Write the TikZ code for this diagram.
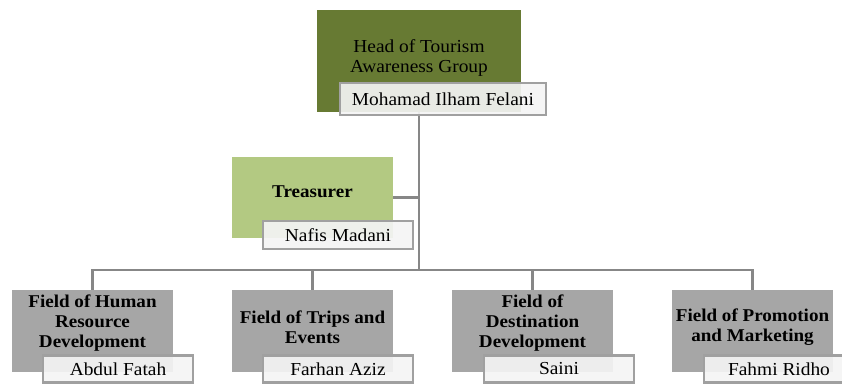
\documentclass[tikz,border=0pt]{standalone}
\usepackage{fontspec}
\setmainfont{Liberation Serif}[FakeStretch=1.06]
\definecolor{headgreen}{HTML}{677A33}
\definecolor{treasgreen}{HTML}{B3C982}
\definecolor{fieldgray}{HTML}{A6A6A6}
\definecolor{namefill}{HTML}{F4F4F4}
\definecolor{nameedge}{HTML}{A0A0A0}
\definecolor{linkgray}{HTML}{878787}
\begin{document}
\begin{tikzpicture}[x=1pt,y=-1pt,
  box/.style={draw=none, inner sep=0pt, minimum width=161pt, minimum height=82pt},
  headbox/.style={box, fill=headgreen, minimum width=204pt, minimum height=102pt},
  treasbox/.style={box, fill=treasgreen, minimum height=81pt},
  fieldbox/.style={box, fill=fieldgray},
  namebox/.style={draw=nameedge, line width=2.8pt, fill=namefill, fill opacity=0.92,
    text opacity=1, inner sep=0pt, minimum width=150pt, minimum height=27pt,
    font=\fontsize{18.3}{20}\selectfont},
  lbl/.style={align=center, inner sep=0pt, font=\fontsize{18.3}{20}\selectfont},
  blbl/.style={lbl, font=\fontsize{18}{20}\selectfont\bfseries},
  link/.style={draw=linkgray, line width=2.8pt}
]
\useasboundingbox (0,0) rectangle (842,383);

% connector anchors: the boxes are placed first, then painted over the links
\node[headbox] (head) at (419,61) {};
\node[treasbox] (treas) at (312.5,197.5) {};
\node[fieldbox] (f1) at (92.5,331) {};
\node[fieldbox] (f2) at (312.5,331) {};
\node[fieldbox] (f3) at (532.5,331) {};
\node[fieldbox] (f4) at (752.5,331) {};
\coordinate (bus) at (0,270);

% connectors
\draw[link] (head.south) -- (head.south |- bus);
\draw[link] (treas.east) -- (treas.east -| head.south);
\draw[link] (f1.north) -- (f1.north |- bus) -- (f4.north |- bus) -- (f4.north);
\draw[link] (f2.north) -- (f2.north |- bus);
\draw[link] (f3.north) -- (f3.north |- bus);

% boxes over the connector ends
\node[headbox] at (head) {};
\node[treasbox] at (treas) {};
\node[fieldbox] at (f1) {};
\node[fieldbox] at (f2) {};
\node[fieldbox] at (f3) {};
\node[fieldbox] at (f4) {};

% titles
\node[lbl] (headtxt) at (419,58) {Head of Tourism\\Awareness Group};
\node[blbl] (treastxt) at (312.5,192) {Treasurer};
\node[blbl] (f1txt) at (92.5,323) {Field of Human\\Resource\\Development};
\node[blbl] (f2txt) at (312.5,327) {Field of Trips and\\Events};
\node[blbl] (f3txt) at (532.5,323) {Field of\\Destination\\Development};
\node[blbl] (f4txt) at (752.5,327) {Field of Promotion\\and Marketing};

% name tags
\node[namebox, minimum width=206pt, minimum height=32pt] (headname) at (443,99) {Mohamad Ilham Felani};
\node[namebox, minimum height=28pt] (treasname) at (338,235) {Nafis Madani};
\node[namebox] (f1name) at (118,369) {Abdul Fatah};
\node[namebox] (f2name) at (338,369) {Farhan Aziz};
\node[namebox] (f3name) at (559,369) {Saini};
\node[namebox] (f4name) at (779,369) {Fahmi Ridho};
\end{tikzpicture}
\end{document}
